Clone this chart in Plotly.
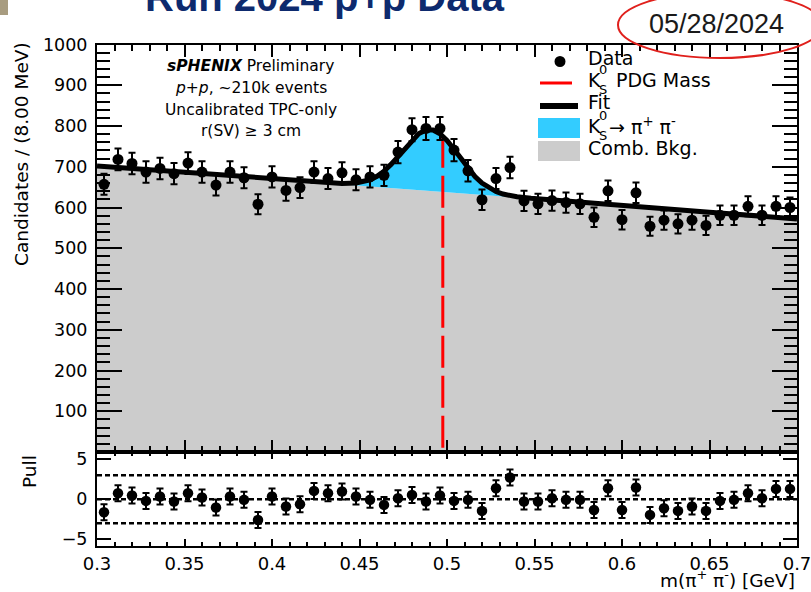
import numpy as np
import plotly.graph_objects as go

W, H = 811, 592

# ---------------- data ----------------
bin_lo, bin_width, n_bins = 0.30, 0.008, 50

counts = [657, 718, 708, 687, 696, 683, 709, 687, 655, 687,
          673, 608, 675, 642, 649, 687, 671, 685, 668, 675,
          679, 736, 791, 794, 794, 741, 690, 619, 671, 698,
          616, 609, 617, 612, 609, 576, 641, 570, 636, 554,
          569, 560, 569, 556, 581, 581, 603, 581, 603, 600]

pulls = [-1.63, 0.75, 0.46, -0.21, 0.33, -0.29, 0.75, 0.21, -1.04, 0.33,
         -0.08, -2.59, 0.33, -0.92, -0.63, 1.04, 0.75, 0.96, 0.33, -0.08,
         -0.71, 0.12, 0.54, -0.29, 0.46, -0.21, -0.08, -1.46, 1.37, 2.71,
         -0.29, -0.29, 0.12, -0.08, -0.08, -1.34, 1.37, -1.34, 1.46, -1.96,
         -1.13, -1.46, -0.92, -1.46, -0.21, -0.08, 0.75, 0.12, 1.29, 1.29]

# fitted model sampled along the mass axis
fit_mass = [0.30, 0.35, 0.40, 0.42, 0.43, 0.44, 0.448, 0.452, 0.456, 0.460,
            0.464, 0.468, 0.472, 0.476, 0.480, 0.484, 0.488, 0.492, 0.496, 0.500,
            0.504, 0.508, 0.512, 0.516, 0.520, 0.524, 0.528, 0.532, 0.536, 0.540,
            0.548, 0.56, 0.60, 0.65, 0.70]
fit_bkg = [702, 686, 671, 664.4, 661.1, 657.8, 655.2, 653.8, 652.5, 651.2,
           649.9, 648.6, 647.2, 645.9, 644.6, 643.3, 642.0, 640.6, 639.3, 638.0,
           636.7, 635.4, 634.0, 632.7, 631.4, 630.1, 628.8, 627.4, 626.1, 624.8,
           622.2, 618.2, 605, 588.5, 572]
fit_total = [702, 686, 671, 664.4, 661.2, 659.0, 660.0, 662.7, 668.0, 676.7,
             689.2, 705.8, 725.4, 746.4, 766.3, 781.8, 790.2, 790.0, 780.9, 764.3,
             742.8, 719.1, 696.1, 676.2, 660.0, 647.8, 639.1, 633.0, 629.0, 626.2,
             622.5, 618.2, 605, 588.5, 572]

pdg_mass = 0.4976
pdg_line_top = 776

pull_ref_levels = [-3, 0, 3]

x_tick_vals = [0.30, 0.35, 0.40, 0.45, 0.50, 0.55, 0.60, 0.65, 0.70]
x_tick_text = ["0.3", "0.35", "0.4", "0.45", "0.5", "0.55", "0.6", "0.65", "0.7"]
y_tick_vals = [100, 200, 300, 400, 500, 600, 700, 800, 900, 1000]
y_tick_text = ["100", "200", "300", "400", "500", "600", "700", "800", "900", "1000"]
pull_tick_vals = [-5, 0, 5]
pull_tick_text = ["\u22125", "0", "5"]

# ---------------- helpers ----------------
def px(x):
    return x / W


def py(y):
    return 1 - y / H


FONT = "DejaVu Sans"
GRAY = "#cccccc"
BLUE = "#33ccff"
RED = "#ff0000"

mass = bin_lo + bin_width * (np.arange(n_bins) + 0.5)
errors = np.sqrt(np.array(counts, dtype=float))

fig = go.Figure()

# combinatorial background (filled)
fig.add_trace(go.Scatter(x=fit_mass, y=fit_bkg, mode="lines", fill="tozeroy",
                         fillcolor=GRAY, line=dict(width=0, color=GRAY),
                         xaxis="x", yaxis="y", hoverinfo="skip"))
# K0s signal stacked on top of background
fig.add_trace(go.Scatter(x=fit_mass, y=fit_total, mode="lines", fill="tonexty",
                         fillcolor=BLUE, line=dict(width=0, color=BLUE),
                         xaxis="x", yaxis="y", hoverinfo="skip"))
# PDG mass marker
fig.add_trace(go.Scatter(x=[pdg_mass, pdg_mass], y=[pdg_line_top, 0], mode="lines",
                         line=dict(color=RED, width=3, dash="32px,8px"),
                         xaxis="x", yaxis="y"))
# total fit
fig.add_trace(go.Scatter(x=fit_mass, y=fit_total, mode="lines",
                         line=dict(color="black", width=5),
                         xaxis="x", yaxis="y"))
# data
fig.add_trace(go.Scatter(x=mass, y=counts, mode="markers",
                         marker=dict(size=11, color="black"),
                         error_y=dict(type="data", array=errors, thickness=2,
                                      width=3.5, color="black"),
                         xaxis="x", yaxis="y"))
# pulls
fig.add_trace(go.Scatter(x=mass, y=pulls, mode="markers",
                         marker=dict(size=10.5, color="black"),
                         error_y=dict(type="data", array=[1.0] * n_bins, thickness=2,
                                      width=3.5, color="black"),
                         xaxis="x2", yaxis="y2"))

shapes = []
for lvl in pull_ref_levels:
    shapes.append(dict(type="line", xref="x2", yref="y2", x0=0.3, x1=0.7, y0=lvl, y1=lvl,
                       line=dict(color="black", width=2.5, dash="5px,3px"), layer="below"))

# legend symbols
shapes += [
    dict(type="circle", xref="paper", yref="paper", x0=px(554.5), x1=px(565.5),
         y0=py(67), y1=py(56), fillcolor="black", line=dict(width=0)),
    dict(type="line", xref="paper", yref="paper", x0=px(540), x1=px(572),
         y0=py(83), y1=py(83), line=dict(color=RED, width=3)),
    dict(type="line", xref="paper", yref="paper", x0=px(540), x1=px(578),
         y0=py(106), y1=py(106), line=dict(color="black", width=6)),
    dict(type="rect", xref="paper", yref="paper", x0=px(538), x1=px(580),
         y0=py(138), y1=py(118), fillcolor=BLUE, line=dict(width=0)),
    dict(type="rect", xref="paper", yref="paper", x0=px(538), x1=px(580),
         y0=py(161), y1=py(141), fillcolor=GRAY, line=dict(width=0)),
]
# slide decorations: corner block and hand-drawn circle around the date
shapes += [
    dict(type="rect", xref="paper", yref="paper", x0=0, x1=px(8), y0=py(15), y1=1,
         fillcolor="#a89c80", line=dict(width=0)),
    dict(type="circle", xref="paper", yref="paper", x0=px(618), x1=px(822),
         y0=py(58), y1=py(-8), line=dict(color="#e0201c", width=2)),
]

annotations = []


def note(text, x, y, size, xanchor="center", yanchor="middle", family=FONT,
         color="black", angle=0):
    annotations.append(dict(text=text, x=px(x), y=py(y), xref="paper", yref="paper",
                            xanchor=xanchor, yanchor=yanchor, showarrow=False,
                            textangle=angle,
                            font=dict(family=family, size=size, color=color)))


# slide title and date
note("<b>Run 2024 p+p Data</b>", 325, -3, 40, family="Liberation Sans", color="#0d2a6e")
note("05/28/2024", 716, 24, 27, family="Liberation Sans", color="#1a1a1a")

# analysis labels
note("<b><i>sPHENIX</i></b> Preliminary", 251, 66, 15.5)
note("<i>p+p</i>, ~210k events", 251, 88, 15.5)
note("Uncalibrated TPC-only", 251, 110, 15.5)
note("r(SV) \u2265 3 cm", 251, 131, 15.5)

# legend text
LEG = 19
note("Data", 586, 58, LEG, xanchor="left")
note("K", 586, 80, LEG, xanchor="left")
note("0", 597, 69, 13, xanchor="left")
note("S", 597, 89, 13, xanchor="left")
note("PDG Mass", 614, 80, LEG, xanchor="left")
note("Fit", 586, 102, LEG, xanchor="left")
note("K", 586, 126, LEG, xanchor="left")
note("0", 597, 115, 13, xanchor="left")
note("S", 597, 135, 13, xanchor="left")
note("\u2192 \u03c0<sup>+</sup> \u03c0<sup>-</sup>", 607, 126, LEG, xanchor="left")
note("Comb. Bkg.", 586, 148, LEG, xanchor="left")

# axis titles
note("Candidates / (8.00 MeV)", 22, 154, 18.5, angle=-90)
note("Pull", 29, 472, 18.5, angle=-90)
note("m(\u03c0<sup>+</sup> \u03c0<sup>-</sup>) [GeV]", 797, 579, 18.5, xanchor="right")

x_minor = list(np.round(np.arange(0.30, 0.7001, 0.01), 3))
y_minor = list(range(0, 1001, 20))

common_x = dict(range=[0.3, 0.7], domain=[px(97), px(797)], showgrid=False, zeroline=False,
                showline=True, linewidth=2, linecolor="black", mirror="allticks",
                ticks="inside", tickcolor="black", tickwidth=1.5,
                tickmode="array", tickvals=x_tick_vals, ticktext=x_tick_text,
                automargin=False, ticklabeloverflow="allow")

fig.update_layout(
    width=W, height=H, margin=dict(l=0, r=0, t=0, b=0, autoexpand=False),
    paper_bgcolor="white", plot_bgcolor="white", showlegend=False,
    font=dict(family=FONT, color="black"),
    xaxis=dict(**common_x, anchor="y", showticklabels=False, ticklen=12,
               minor=dict(tickmode="array", tickvals=x_minor, ticks="inside",
                          ticklen=6, tickcolor="black", tickwidth=1.5)),
    xaxis2=dict(**common_x, anchor="y2", matches="x", ticklen=7,
                tickfont=dict(size=18, family=FONT),
                minor=dict(tickmode="array", tickvals=x_minor, ticks="inside",
                           ticklen=4, tickcolor="black", tickwidth=1.5)),
    yaxis=dict(range=[0, 1000], domain=[py(452), py(44.5)], anchor="x",
               showgrid=False, zeroline=False, showline=True, linewidth=2,
               linecolor="black", mirror="allticks", ticks="inside", ticklen=25,
               tickcolor="black", tickwidth=1.5, tickmode="array",
               tickvals=y_tick_vals, ticktext=y_tick_text, automargin=False,
               tickfont=dict(size=17.5, family=FONT), ticklabelstandoff=4,
               minor=dict(tickmode="array", tickvals=y_minor, ticks="inside",
                          ticklen=13, tickcolor="black", tickwidth=1.5)),
    yaxis2=dict(range=[-5.85, 5.9], domain=[py(546), py(452)], anchor="x2",
                showgrid=False, zeroline=False, showline=True, linewidth=2,
                linecolor="black", mirror="allticks", ticks="inside", ticklen=14,
                tickcolor="black", tickwidth=1.5, tickmode="array",
                tickvals=pull_tick_vals, ticktext=pull_tick_text, automargin=False,
                tickfont=dict(size=17.5, family=FONT), ticklabelstandoff=4),
    shapes=shapes,
    annotations=annotations,
)

fig.write_html("out.html")
